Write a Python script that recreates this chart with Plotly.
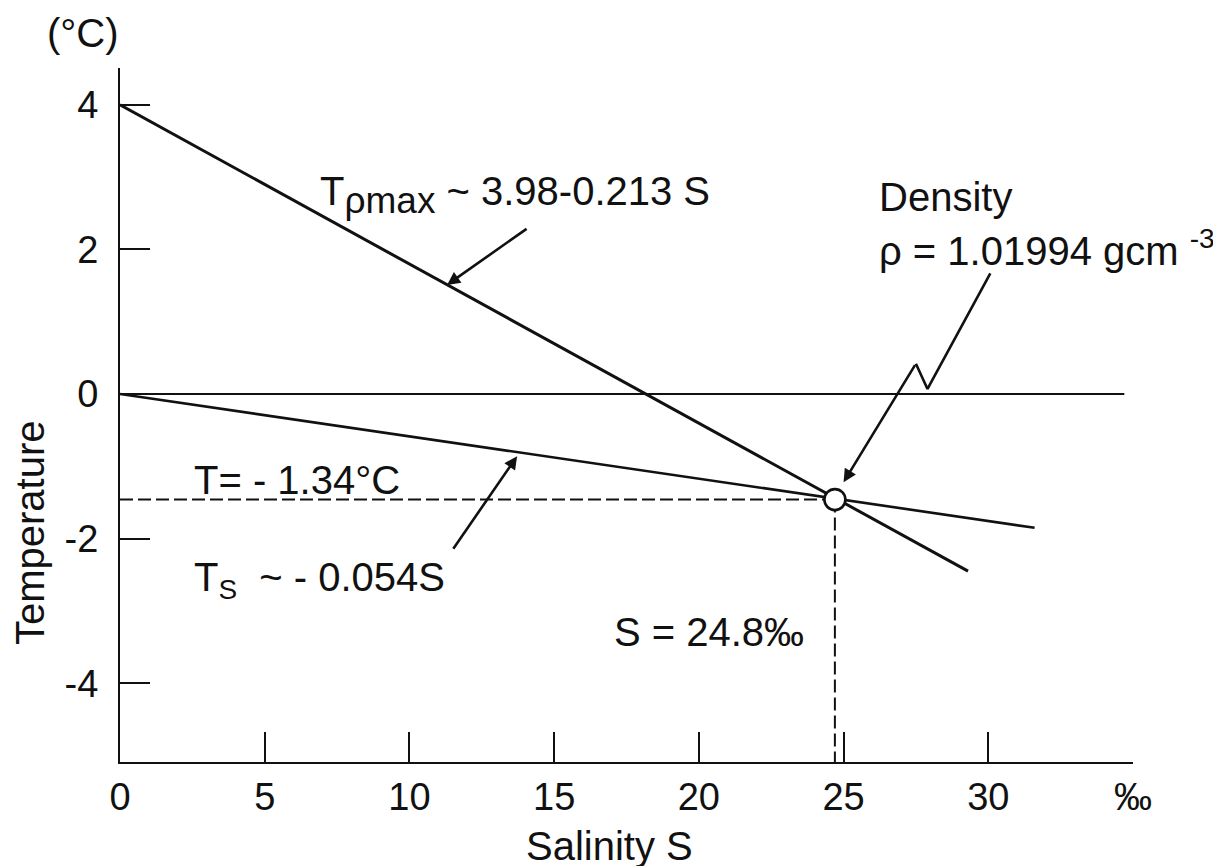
import plotly.graph_objects as go

# ---- data ----
tmax_salinity = [0.0, 29.3]
tmax_temp = [4.0, -2.45]

ts_salinity = [0.0, 31.6]
ts_temp = [0.0, -1.85]

zero_salinity = [0.0, 34.7]
zero_temp = [0.0, 0.0]

point_salinity = 24.7
point_temp = -1.46

density_zigzag_s = [30.07, 27.9, 27.5]
density_zigzag_t = [1.67, 0.07, 0.42]
density_head = (25.0, -1.22)

tmax_arrow_tail = (14.1, 2.30)
tmax_arrow_head = (11.3, 1.51)
ts_arrow_tail = (11.48, -2.16)
ts_arrow_head = (13.72, -0.86)

x_tickvals = [0, 5, 10, 15, 20, 25, 30, 35]
x_ticktext = ["0", "5", "10", "15", "20", "25", "30", "‰"]
y_tickvals = [-4, -2, 0, 2, 4]
y_ticktext = ["-4", "-2", "0", "2", "4"]

FONT = "Liberation Sans, Arial, Helvetica, sans-serif"
FS = 40
TICK_FS = 38
BLACK = "#111111"

fig = go.Figure()

# dashed guide lines to the intersection point
fig.add_trace(go.Scatter(x=[0, point_salinity], y=[point_temp, point_temp], mode="lines",
                         line=dict(color=BLACK, width=2, dash="13px,5px"), hoverinfo="skip"))
fig.add_trace(go.Scatter(x=[point_salinity, point_salinity], y=[point_temp, -5.09], mode="lines",
                         line=dict(color=BLACK, width=2, dash="13px,5px"), hoverinfo="skip"))

# zero line
fig.add_trace(go.Scatter(x=zero_salinity, y=zero_temp, mode="lines",
                         line=dict(color=BLACK, width=2), hoverinfo="skip"))
# T_rho_max line
fig.add_trace(go.Scatter(x=tmax_salinity, y=tmax_temp, mode="lines",
                         line=dict(color=BLACK, width=3), hoverinfo="skip"))
# T_s line
fig.add_trace(go.Scatter(x=ts_salinity, y=ts_temp, mode="lines",
                         line=dict(color=BLACK, width=2.6), hoverinfo="skip"))
# density zigzag leader
fig.add_trace(go.Scatter(x=density_zigzag_s, y=density_zigzag_t, mode="lines",
                         line=dict(color=BLACK, width=2.6), hoverinfo="skip"))
# intersection point
fig.add_trace(go.Scatter(x=[point_salinity], y=[point_temp], mode="markers",
                         marker=dict(symbol="circle", size=21, color="white",
                                     line=dict(color=BLACK, width=2.6)), hoverinfo="skip"))

def arrow(head, tail):
    fig.add_annotation(x=head[0], y=head[1], ax=tail[0], ay=tail[1],
                       xref="x", yref="y", axref="x", ayref="y", text="",
                       showarrow=True, arrowhead=2, arrowsize=1.0, arrowwidth=2.6,
                       arrowcolor=BLACK, standoff=0)

arrow(tmax_arrow_head, tmax_arrow_tail)
arrow(ts_arrow_head, ts_arrow_tail)
arrow(density_head, (density_zigzag_s[-1], density_zigzag_t[-1]))

def label(x, y, text, xanchor="left", angle=0, ref="data"):
    r = ("x", "y") if ref == "data" else ("paper", "paper")
    fig.add_annotation(x=x, y=y, xref=r[0], yref=r[1], text=text, showarrow=False,
                       xanchor=xanchor, yanchor="middle", textangle=angle,
                       font=dict(family=FONT, size=FS, color=BLACK))

label(6.84, 2.75, 'T<sub><span style="font-size:37px">ρmax</span></sub> ~ 3.98-0.213 S')
label(26.17, 2.73, "Density")
label(26.17, 2.02, "ρ = 1.01994 gcm <sup>-3</sup>")
label(2.49, -1.19, "T= - 1.34°C")
label(2.49, -2.57, "T<sub>S</sub>  ~ - 0.054S")
label(17.0, -3.29, "S = 24.8‰")
label(-0.0365, 1.0504, "(°C)", xanchor="center", ref="paper")
label(-0.0888, 0.330, "Temperature", xanchor="center", angle=-90, ref="paper")
label(0.4837, -0.121, "Salinity S", xanchor="center", ref="paper")

fig.update_layout(
    width=1221, height=866,
    margin=dict(l=112, r=96, t=60, b=112),
    paper_bgcolor="white", plot_bgcolor="white",
    showlegend=False,
    font=dict(family=FONT, size=FS, color=BLACK),
    xaxis=dict(range=[0, 35], tickvals=x_tickvals, ticktext=x_ticktext,
               showgrid=False, zeroline=False, showline=True, linecolor=BLACK, linewidth=2,
               ticks="inside", ticklen=30, tickwidth=2, tickcolor=BLACK,
               ticklabelstandoff=0, tickfont=dict(family=FONT, size=TICK_FS, color=BLACK)),
    yaxis=dict(range=[-5.09, 4.51], tickvals=y_tickvals, ticktext=y_ticktext,
               showgrid=False, zeroline=False, showline=True, linecolor=BLACK, linewidth=2,
               ticks="inside", ticklen=30, tickwidth=2, tickcolor=BLACK,
               ticklabelstandoff=12, tickfont=dict(family=FONT, size=TICK_FS, color=BLACK)),
)

fig.write_html("out.html")
